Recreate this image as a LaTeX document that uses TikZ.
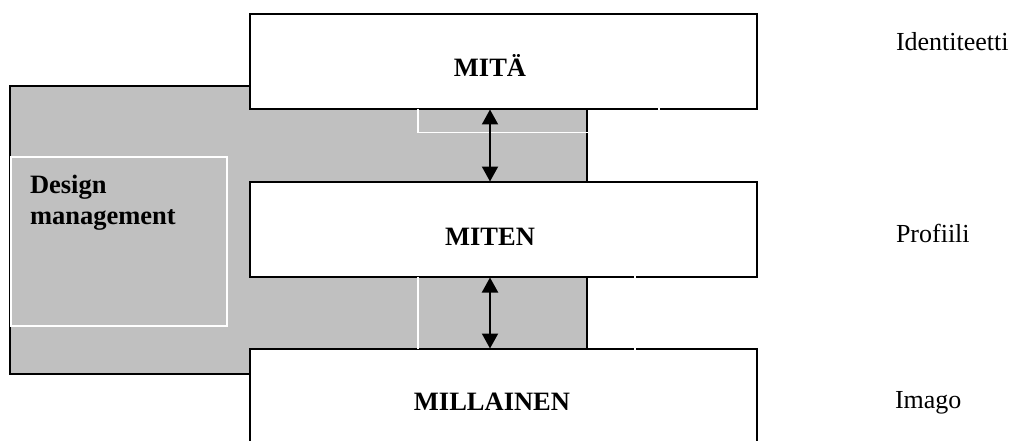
\documentclass[tikz,border=0pt]{standalone}
\usepackage{fontspec}
\setmainfont{Liberation Serif}
\usetikzlibrary{arrows.meta}
\begin{document}
\begin{tikzpicture}[x=1pt,y=-1pt,
  every node/.style={inner sep=0pt,outer sep=0pt},
  frame/.style={draw=black,line width=2.2pt,fill=white,minimum width=507pt,minimum height=95pt},
  graybox/.style={draw=black,line width=2.2pt,fill={rgb,255:red,192;green,192;blue,192},minimum width=577pt,minimum height=288pt},
  whiteline/.style={draw=white,line width=1.2pt},
  lbl/.style={font=\fontsize{26.5}{31}\selectfont\bfseries,anchor=base},
  side/.style={font=\fontsize{26}{31}\selectfont,anchor=base west},
  dblarrow/.style={line width=2pt,{Triangle[width=16pt,length=15pt]}-{Triangle[width=16pt,length=15pt]},shorten <=0.5pt,shorten >=0.5pt}
]
\useasboundingbox (0,0) rectangle (1014,441);
% gray area
\node[graybox] (dm) at (298.5,230) {};
% white inner frame of design management
\draw[whiteline] (11,157) rectangle (227,326);
\node[font=\fontsize{26.5}{31}\selectfont\bfseries,align=left,anchor=north west] (dmtext) at (30,175.5) {Design\\management};
% boxes
\node[frame] (mita) at (503.5,61.5) {};
\node[frame] (miten) at (503.5,229.5) {};
\node[frame,minimum height=120pt] (millainen) at (503.5,409) {};
% white lines in the gaps
\coordinate (w1) at (418,109);
\coordinate (w2) at (418,132.5);
\coordinate (w3) at (588,132.5);
\draw[whiteline] (w1) -- (w2) -- (w3);
\coordinate (w4) at (418,277);
\coordinate (w5) at (418,349);
\draw[whiteline] (w4) -- (w5);
% small breaks in box edges
\draw[white,line width=1.5pt] (659,107.5) -- (659,110.5);
\draw[white,line width=1.5pt] (635,275.5) -- (635,278.5);
\draw[white,line width=1.5pt] (635,347.5) -- (635,350.5);
% labels
\node[lbl] (t1) at (490,77) {MITÄ};
\node[lbl] (t2) at (490,245) {MITEN};
\node[lbl] (t3) at (492,410) {MILLAINEN};
\node[side] (s1) at (896,51) {Identiteetti};
\node[side] (s2) at (896,242) {Profiili};
\node[side] (s3) at (895,408) {Imago};
% arrows
\coordinate (ax) at (490,0);
\draw[dblarrow] (mita.south -| ax) -- (miten.north -| ax);
\draw[dblarrow] (miten.south -| ax) -- (millainen.north -| ax);
\end{tikzpicture}
\end{document}
